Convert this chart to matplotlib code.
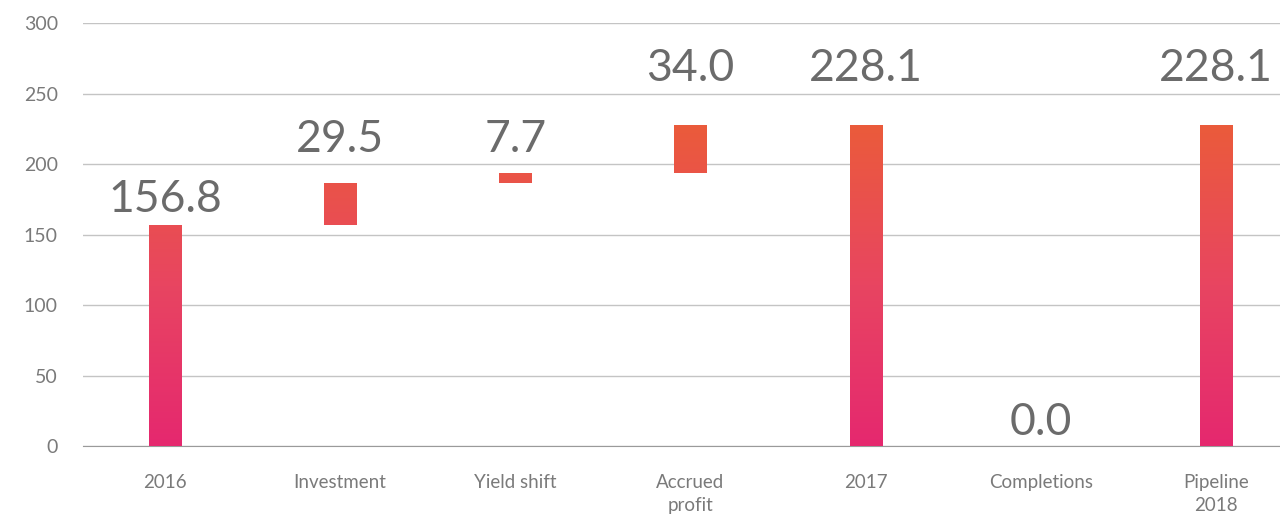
import matplotlib.pyplot as plt
import numpy as np
from matplotlib.colors import LinearSegmentedColormap
from matplotlib.patches import Rectangle

categories = ['2016', 'Investment', 'Yield shift', 'Accrued\nprofit',
              '2017', 'Completions', 'Pipeline\n2018']
values = [156.8, 29.5, 7.7, 34.0, 228.1, 0.0, 228.1]
is_total = [True, False, False, False, True, False, True]
yticks = [0, 50, 100, 150, 200, 250, 300]

# gap between bar top and the value label, in pixels
label_gap = [13, 31, 21, 44, 44, 11, 44]

plt.rcParams['font.family'] = ['Lato', 'DejaVu Sans']

fig = plt.figure(figsize=(12.8, 5.15), dpi=100)
ax = fig.add_axes([0.0648, 0.134, 0.9352, 0.821])

grad = LinearSegmentedColormap.from_list('pinkorange', ['#e5286f', '#e84561', '#eb5b3b'])
top_val = max(values)
width = 0.183

running = 0.0
for i, (v, tot) in enumerate(zip(values, is_total)):
    if tot:
        bottom, top = 0.0, v
        running = v
    else:
        bottom, top = running, running + v
        running = top
    if top > bottom:
        rect = Rectangle((i - width / 2, bottom), width, top - bottom,
                         facecolor='none', edgecolor='none')
        ax.add_patch(rect)
        shade = np.linspace(bottom, top, 200).reshape(-1, 1) / top_val
        im = ax.imshow(shade, cmap=grad, vmin=0, vmax=1, origin='lower',
                       extent=[i - width / 2, i + width / 2, bottom, top],
                       aspect='auto', zorder=3, interpolation='bilinear')
        im.set_clip_path(rect)
        anchor = top
    else:
        # an empty step gets its label at the baseline
        anchor = 0.0
    ax.annotate(f'{v:.1f}', (i, anchor), xytext=(0, label_gap[i]),
                textcoords='offset pixels', ha='center', va='baseline',
                fontsize=32, color='#6b6b6b', zorder=4)

ax.set_xlim(-0.468, 6.365)
ax.set_ylim(0, 300)
ax.set_yticks(yticks)
ax.set_xticks(range(len(categories)))
ax.set_xticklabels(categories, linespacing=1.45)
ax.grid(axis='y', color='#c4c4c4', linewidth=1)
ax.set_axisbelow(True)
for s in ['top', 'right', 'left']:
    ax.spines[s].set_visible(False)
ax.spines['bottom'].set_color('#9a9a9a')
ax.tick_params(axis='y', length=0, pad=18, labelsize=14, labelcolor='#7a7a7a')
ax.tick_params(axis='x', length=0, pad=20, labelsize=13.5, labelcolor='#7a7a7a')

fig.savefig('out.png', dpi=100)
